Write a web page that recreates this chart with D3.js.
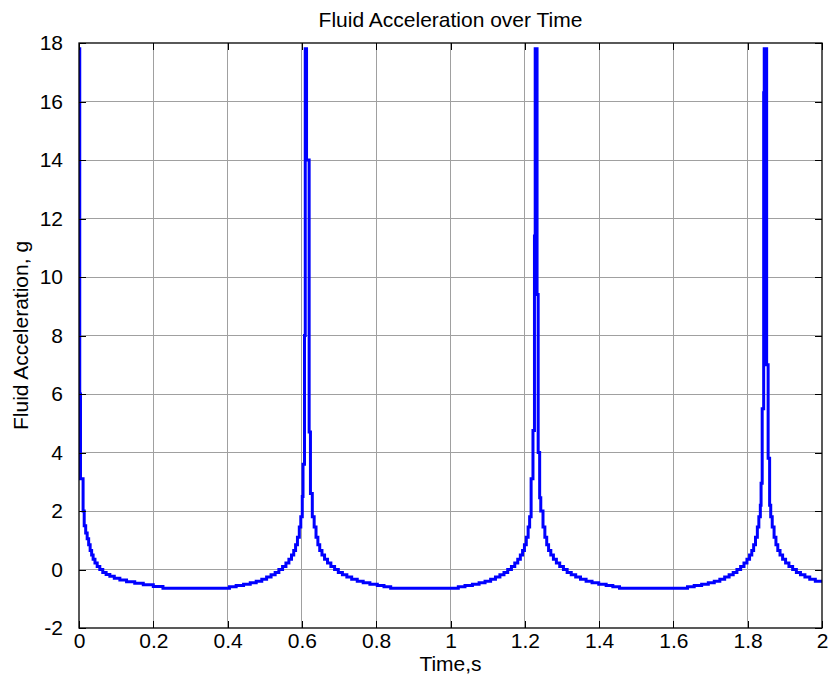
<!DOCTYPE html>
<html>
<head>
<meta charset="utf-8">
<script src="https://cdn.jsdelivr.net/npm/d3@7"></script>
<style>
  body { margin: 0; background: #fff; }
  svg text { font-family: "Liberation Sans", Arial, Helvetica, sans-serif; fill: #000; }
  .grid line { stroke: #a0a0a0; stroke-width: 1; shape-rendering: crispEdges; }
  .axis path, .axis line { stroke: #000; shape-rendering: crispEdges; }
</style>
</head>
<body>
<div class="App"></div>
<script>
// time samples (s), stepped signal
var timeS = [
  0, 0.002, 0.004, 0.011, 0.014, 0.018, 0.022, 0.026, 0.030, 0.034, 0.038, 0.043, 0.049, 0.056,
  0.064, 0.073, 0.083, 0.095, 0.110, 0.128, 0.150, 0.173, 0.200, 0.226,
  0.405, 0.423, 0.443, 0.461, 0.477, 0.492, 0.505, 0.517, 0.528, 0.538, 0.548, 0.557, 0.565,
  0.572, 0.578, 0.583, 0.588, 0.593, 0.597, 0.601, 0.603, 0.607, 0.609, 0.6125, 0.6195, 0.623,
  0.628, 0.633, 0.638, 0.643, 0.648, 0.654, 0.661, 0.669, 0.678, 0.688, 0.698, 0.709, 0.721,
  0.734, 0.749, 0.765, 0.783, 0.803, 0.821, 0.839,
  1.021, 1.039, 1.059, 1.077, 1.093, 1.108, 1.121, 1.133, 1.144, 1.154, 1.164, 1.173, 1.181,
  1.188, 1.194, 1.199, 1.204, 1.209, 1.213, 1.217, 1.222, 1.226, 1.228, 1.233, 1.236, 1.240,
  1.243, 1.249, 1.254, 1.259, 1.264, 1.270, 1.277, 1.285, 1.294, 1.304, 1.314, 1.325, 1.337,
  1.350, 1.365, 1.381, 1.399, 1.419, 1.437, 1.455,
  1.638, 1.656, 1.676, 1.694, 1.710, 1.725, 1.738, 1.750, 1.761, 1.771, 1.781, 1.790, 1.798,
  1.805, 1.811, 1.816, 1.821, 1.826, 1.830, 1.834, 1.836, 1.839, 1.843, 1.8445, 1.851, 1.855,
  1.859, 1.862, 1.866, 1.871, 1.876, 1.881, 1.887, 1.894, 1.902, 1.911, 1.921, 1.931, 1.942,
  1.954, 1.967, 1.982, 2.000
];

// fluid acceleration (g) at each sample
var accelG = [
  17.8, 6.0, 3.1, 2.0, 1.5, 1.25, 1.05, 0.85, 0.65, 0.5, 0.35, 0.22, 0.1, 0.0,
  -0.1, -0.17, -0.23, -0.3, -0.36, -0.42, -0.47, -0.52, -0.58, -0.64,
  -0.59, -0.55, -0.5, -0.45, -0.4, -0.33, -0.26, -0.18, -0.1, 0.0, 0.1, 0.22, 0.35,
  0.5, 0.65, 0.85, 1.1, 1.45, 1.8, 2.5, 3.6, 8.0, 17.8, 14.0, 4.7, 2.6,
  1.8, 1.45, 1.1, 0.85, 0.65, 0.5, 0.35, 0.22, 0.1, 0.0, -0.1, -0.18, -0.26,
  -0.33, -0.4, -0.45, -0.5, -0.55, -0.59, -0.64,
  -0.59, -0.55, -0.5, -0.45, -0.4, -0.33, -0.26, -0.18, -0.1, 0.0, 0.1, 0.22, 0.35,
  0.5, 0.65, 0.85, 1.1, 1.45, 1.8, 3.1, 4.75, 11.4, 17.8, 9.4, 4.0, 2.45,
  2.0, 1.45, 1.1, 0.85, 0.65, 0.5, 0.35, 0.22, 0.1, 0.0, -0.1, -0.18, -0.26,
  -0.33, -0.4, -0.45, -0.5, -0.55, -0.59, -0.64,
  -0.59, -0.55, -0.5, -0.45, -0.4, -0.33, -0.26, -0.18, -0.1, 0.0, 0.1, 0.22, 0.35,
  0.5, 0.65, 0.85, 1.1, 1.45, 1.8, 2.2, 2.95, 5.5, 16.3, 17.8, 7.0, 3.8,
  2.2, 1.8, 1.45, 1.1, 0.85, 0.65, 0.5, 0.35, 0.22, 0.1, 0.0, -0.1, -0.18,
  -0.26, -0.33, -0.4, -0.45
];

var xTicks = [0, 0.2, 0.4, 0.6, 0.8, 1, 1.2, 1.4, 1.6, 1.8, 2];
var yTicks = [-2, 0, 2, 4, 6, 8, 10, 12, 14, 16, 18];

var width = 833, height = 692,
    margin = {top: 43, right: 11, bottom: 64, left: 79},
    tickLen = 7,
    fontSize = "21px";

var x = d3.scaleLinear().domain([0, 2]).range([margin.left, width - margin.right]);
var y = d3.scaleLinear().domain([-2, 18]).range([height - margin.bottom, margin.top]);

var svg = d3.select(".App").append("svg")
    .attr("width", width)
    .attr("height", height);

// grid
var grid = svg.append("g").attr("class", "grid");
grid.selectAll(".gx")
  .data(xTicks.slice(1, -1))
  .enter().append("line")
    .attr("x1", function(d) { return x(d); })
    .attr("x2", function(d) { return x(d); })
    .attr("y1", y(-2)).attr("y2", y(18));
grid.selectAll(".gy")
  .data(yTicks.slice(1, -1))
  .enter().append("line")
    .attr("y1", function(d) { return y(d); })
    .attr("y2", function(d) { return y(d); })
    .attr("x1", x(0)).attr("x2", x(2));

// data line
var line = d3.line()
    .curve(d3.curveStepAfter)
    .x(function(d) { return x(d[0]); })
    .y(function(d) { return y(d[1]); });

svg.append("clipPath").attr("id", "clip")
  .append("rect")
    .attr("x", x(0)).attr("y", y(18) - 2)
    .attr("width", x(2) - x(0)).attr("height", y(-2) - y(18) + 2);

svg.append("path")
    .datum(d3.zip(timeS, accelG))
    .attr("clip-path", "url(#clip)")
    .attr("fill", "none")
    .attr("stroke", "#0000ff")
    .attr("stroke-width", 3)
    .attr("d", line);

// axes, ticks inward on all four sides
var fmt = function(d) { return String(d); };

svg.append("g").attr("class", "axis")
    .attr("transform", "translate(0," + y(-2) + ")")
    .style("font-size", fontSize)
    .call(d3.axisBottom(x).tickValues(xTicks).tickFormat(fmt).tickSizeInner(-tickLen).tickSizeOuter(0).tickPadding(5))
    .call(function(g) { g.select(".domain").remove(); });

svg.append("g").attr("class", "axis")
    .attr("transform", "translate(" + x(0) + ",0)")
    .style("font-size", fontSize)
    .call(d3.axisLeft(y).tickValues(yTicks).tickFormat(fmt).tickSizeInner(-tickLen).tickSizeOuter(0).tickPadding(16))
    .call(function(g) { g.select(".domain").remove(); });

svg.append("g").attr("class", "axis")
    .attr("transform", "translate(0," + y(18) + ")")
    .call(d3.axisTop(x).tickValues(xTicks).tickFormat("").tickSizeInner(-tickLen).tickSizeOuter(0))
    .call(function(g) { g.select(".domain").remove(); });

svg.append("g").attr("class", "axis")
    .attr("transform", "translate(" + x(2) + ",0)")
    .call(d3.axisRight(y).tickValues(yTicks).tickFormat("").tickSizeInner(-tickLen).tickSizeOuter(0))
    .call(function(g) { g.select(".domain").remove(); });

svg.selectAll(".axis text").attr("fill", "#000");

// box
svg.append("rect")
    .attr("x", x(0)).attr("y", y(18))
    .attr("width", x(2) - x(0)).attr("height", y(-2) - y(18))
    .attr("fill", "none")
    .attr("stroke", "#000")
    .attr("stroke-width", 1.3);

// labels
svg.append("text")
    .attr("x", (x(0) + x(2)) / 2).attr("y", 27)
    .attr("text-anchor", "middle")
    .style("font-size", fontSize)
    .text("Fluid Acceleration over Time");

svg.append("text")
    .attr("x", (x(0) + x(2)) / 2).attr("y", 671)
    .attr("text-anchor", "middle")
    .style("font-size", fontSize)
    .text("Time,s");

svg.append("text")
    .attr("transform", "translate(28," + (y(-2) + y(18)) / 2 + ")rotate(-90)")
    .attr("text-anchor", "middle")
    .style("font-size", fontSize)
    .text("Fluid Acceleration, g");
</script>
</body>
</html>
